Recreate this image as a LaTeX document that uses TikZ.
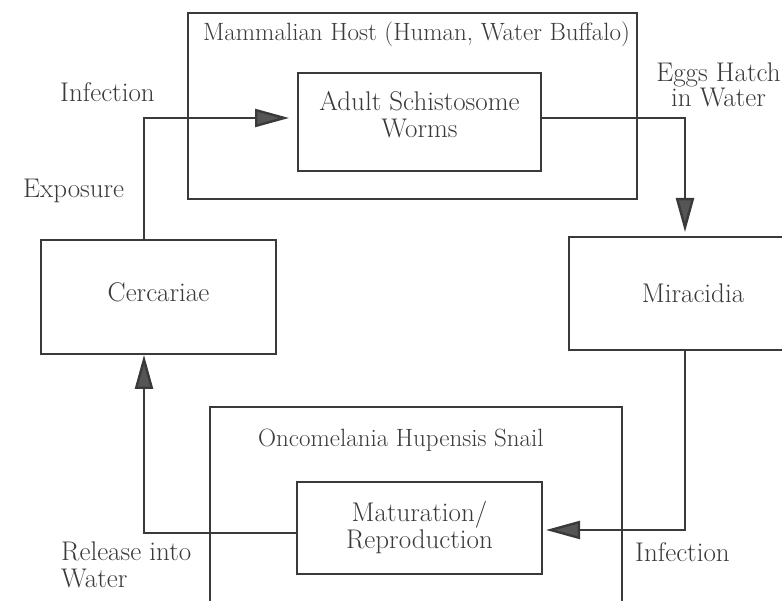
\documentclass[tikz,border=0pt]{standalone}
\usepackage{tikz}
\usetikzlibrary{arrows.meta}
\definecolor{linegray}{HTML}{3A3A3A}
\definecolor{headgray}{HTML}{555555}
\tikzset{x=1pt, y=1pt,
  every node/.append style={text=linegray, font=\fontsize{27}{27}\selectfont},
  hostbox/.style={draw=linegray, line width=1.3pt, inner sep=0pt},
  stagebox/.style={draw=linegray, line width=2pt, inner sep=0pt, align=center},
  hostlabel/.style={inner sep=0pt, anchor=base west, font=\fontsize{25}{25}\selectfont},
  steplabel/.style={inner sep=0pt},
  flow/.style={draw=linegray, line width=2.4pt,
    -{Triangle[length=34pt, width=18pt, fill=headgray]}}}

\begin{document}
\begin{tikzpicture}
\useasboundingbox[fill=white] (0,0) rectangle (782,601);
\node (host) [hostbox, minimum width=449pt, minimum height=186pt] at (412.5,495) {};
\node (hostlbl) [hostlabel] at (203,560) {Mammalian Host (Human, Water Buffalo)};
\node (adult) [stagebox, minimum width=243pt, minimum height=98pt, text depth=16pt] at (419.5,479) {Adult Schistosome\\Worms};
\node (snail) [hostbox, minimum width=412pt, minimum height=260pt] at (416,64) {};
\node (snaillbl) [hostlabel] at (258,154) {Oncomelania Hupensis Snail};
\node (matur) [stagebox, minimum width=245pt, minimum height=92pt] at (419.5,73) {Maturation/\\Reproduction};
\node (cerc) [stagebox, minimum width=235pt, minimum height=114pt, text depth=10pt] at (158.5,304) {Cercariae};
\node (mirac) [stagebox, minimum width=248pt, minimum height=113pt] at (693,307.5) {Miracidia};
\coordinate (cercout) at ([xshift=104pt]cerc.north west);
\coordinate (cercin) at ([xshift=104pt]cerc.south west);
\coordinate (miracin) at ([xshift=117pt]mirac.north west);
\coordinate (miracout) at ([xshift=117pt]mirac.south west);
\node (infect) [steplabel, anchor=base west] at (60,499) {Infection};
\node (expo) [steplabel, anchor=base west] at (23,403) {Exposure};
\node (eggs) [steplabel, align=center, font=\fontsize{27}{19}\selectfont] at (718.5,516) {Eggs Hatch\\in Water};
\node (release) [steplabel, align=left, anchor=west] at (61,36.5) {Release into\\Water};
\node (reinfect) [steplabel, anchor=base west] at (635,39) {Infection};
\draw[flow, shorten >=8pt] (cercout) |- ([yshift=4pt]adult.west);
\draw[flow, shorten >=4pt] ([yshift=4pt]adult.east) -| (miracin);
\draw[flow, shorten >=3pt] (miracout) |- ([yshift=-2pt]matur.east);
\draw[flow] ([yshift=-5pt]matur.west) -| (cercin);
\end{tikzpicture}
\end{document}
